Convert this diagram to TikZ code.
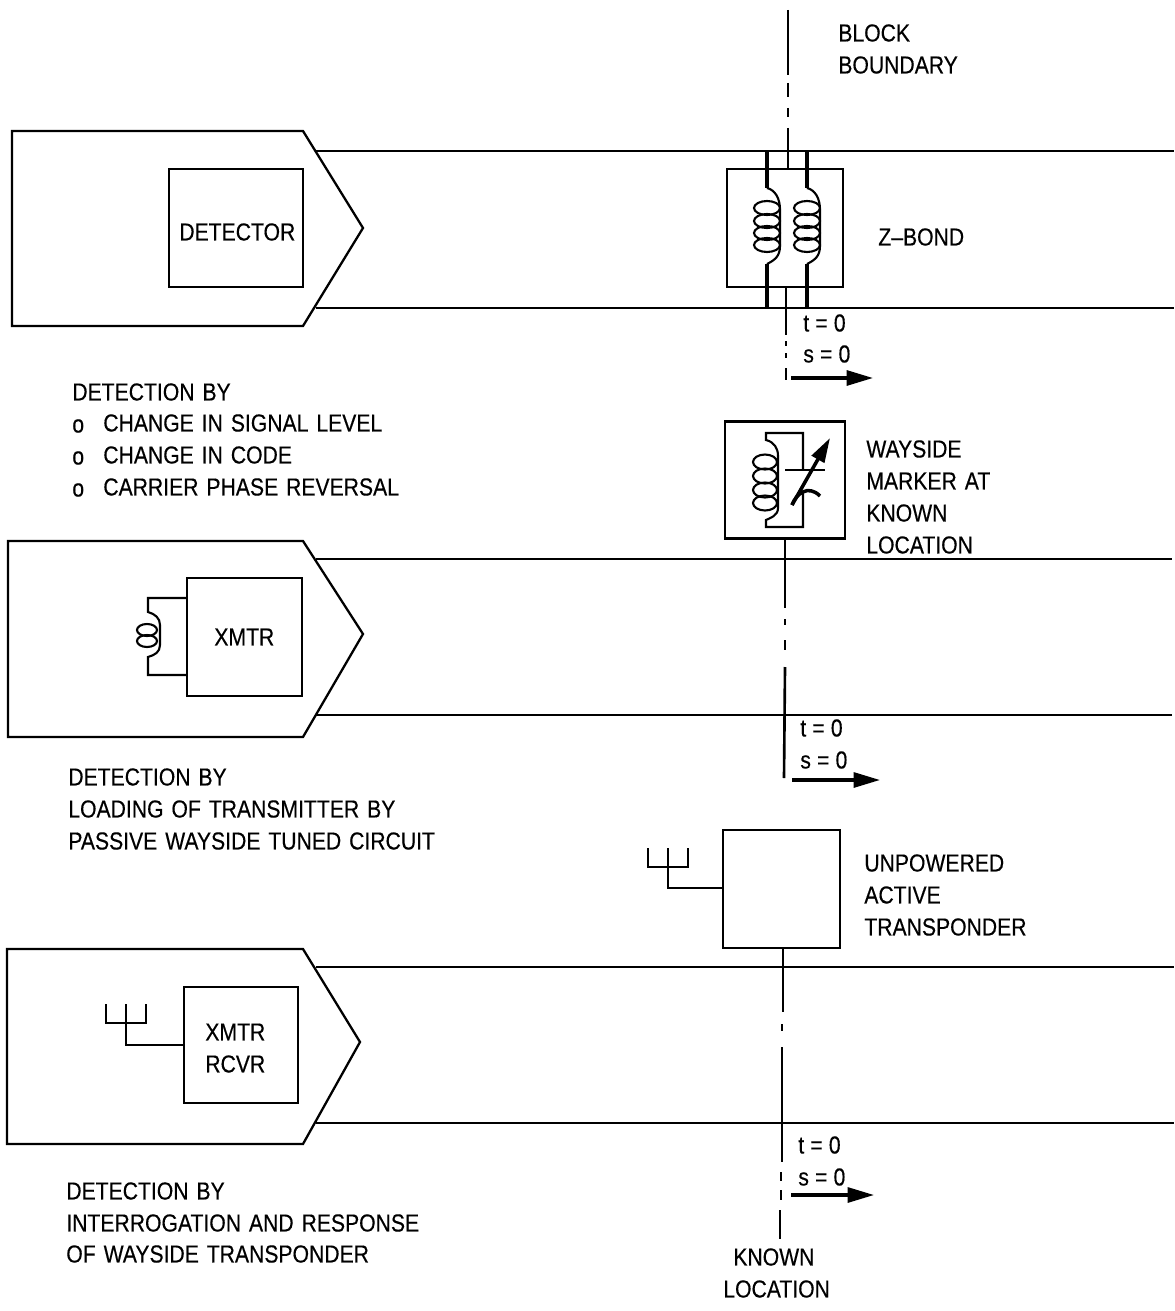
\documentclass[tikz,border=0pt]{standalone}
\usepackage{fontspec}
\setmainfont[FakeStretch=0.86,WordSpace=1.35,FakeBold=0.35]{Liberation Sans}
\usetikzlibrary{arrows.meta,positioning,calc}
\newcommand{\zero}[1]{#1\kern3.5pt=\kern3.5pt0}
\tikzset{
  rail/.style={line width=0.95pt},
  hull/.style={line width=1.3pt},
  unitbox/.style={draw, line width=1.4pt, inner sep=0pt},
  lbl/.style={anchor=west, inner sep=0pt, font=\fontsize{14}{18}\selectfont},
  coilwire/.style={line width=1.2pt},
  lead/.style={line width=2pt},
  aerial/.style={line width=1.5pt},
  boundary/.style={line width=1.5pt},
  travel/.style={line width=1.8pt, -{Triangle[length=15pt,width=8.5pt]}}
}
\begin{document}
\begin{tikzpicture}[x=0.02cm,y=-0.02cm]
\useasboundingbox (0,0) rectangle (1174,1311);
% Vehicles
\foreach \x/\t/\m/\b/\n/\a in {12/131/228/326/hulla/363,8/541/634/737/hullb/363,7/949/1042/1144/hullc/360} {
  \draw[hull] (\x,\t) -- (303,\t) -- (\a,\m) -- (303,\b) -- (\x,\b) -- cycle;
}
% Rails
\foreach \t/\b/\e in {151/308/1174,559/715/1172,967/1123/1174} {
  \draw[rail] (316,\t) -- (\e,\t);
  \draw[rail] (316,\b) -- (\e,\b);
}
% On-board units
\node[unitbox, minimum width=2.68cm, minimum height=2.36cm] (detector) at (236,228) {};
\node[unitbox, minimum width=2.3cm, minimum height=2.36cm] (xmtr) at (244.5,637) {};
\node[unitbox, minimum width=2.28cm, minimum height=2.32cm] (xmtrrcvr) at (241,1045) {};
% Wayside units
\node[unitbox, minimum width=2.32cm, minimum height=2.36cm] (zbond) at (785,228) {};
\node[unitbox, minimum width=2.4cm, minimum height=2.34cm] (marker) at (785,480) {};
\node[unitbox, minimum width=2.34cm, minimum height=2.36cm] (transp) at (781.5,889) {};
% Block boundary
\coordinate (bbtop) at (788,10);
\draw[boundary] (bbtop) -- (788,75);
\draw[boundary] (788,83) -- (788,97);
\draw[boundary] (788,108) -- (788,117);
\draw[boundary] (788,128) -- (zbond.north -| 788,0);
\draw[boundary] (zbond.south -| 786,0) -- (786,335);
\foreach \a/\b in {341/346,353/358,368/380} {
  \draw[boundary] (786,\a) -- (786,\b);
}
% Marker line
\draw[boundary] (marker.south -| 785,0) -- (785,608);
\foreach \a/\b in {619/625,640/650} {
  \draw[boundary] (785,\a) -- (785,\b);
}
\draw[boundary] (785,667) -- (784,778);
% Known location line
\draw[boundary] (transp.south -| 783,0) -- (783,1012);
\foreach \x/\a/\b in {782/1024/1031,781/1172/1181,781/1190/1200} {
  \draw[boundary] (\x,\a) -- (\x,\b);
}
\draw[boundary] (782,1047) -- (782,1162);
\draw[boundary] (780,1210) -- (780,1239);
% Z-bond windings
\foreach \x/\n in {767/l,807/r} {
  \coordinate (top\n) at (\x,151);
  \coordinate (bot\n) at (\x,308);
  \draw[lead] (top\n) -- (\x,188);
  \draw[lead] (\x,264) -- (bot\n);
  \draw[coilwire] (\x,188) .. controls (\x+8,190) and (\x+13,198) .. (\x+13,210)
    -- (\x+13,246) .. controls (\x+13,256) and (\x+8,260) .. (\x,264);
  \foreach \y in {208,221,233,245} {
    \draw[coilwire] (\x,\y) ellipse [x radius=13, y radius=7];
  }
}
% Marker tuned circuit
\draw[coilwire] (803,470) -- (803,433) -- (766,433) -- (766,440)
  .. controls (774,442) and (778,448) .. (778,456) -- (778,508)
  .. controls (778,516) and (770,518) .. (766,520) -- (766,527) -- (803,527) -- (803,492);
\foreach \y in {462,476,490,503} {
  \draw[coilwire] (765,\y) ellipse [x radius=12, y radius=7.5];
}
\draw[coilwire] (785,470) -- (825,470);
\draw[lead] (792,505) .. controls (796,494) and (808,484) .. (820,496);
\draw[lead, -{Triangle[length=14pt,width=8pt]}] (792,505) -- (830,438);
% XMTR coil
\draw[coilwire] (xmtr.west |- 0,598) -- (148,598) -- (148,612)
  .. controls (155,614) and (160,618) .. (160,625) -- (160,645)
  .. controls (160,652) and (155,655) .. (148,657) -- (148,675) -- (xmtr.west |- 0,675);
\foreach \y in {630,641} {
  \draw[coilwire] (147,\y) ellipse [x radius=10, y radius=6];
}
% Antennas
\draw[aerial] (648,848) -- (648,867) -- (688,867) -- (688,848);
\draw[coilwire] (668,848) -- (668,888) -- (transp.west |- 0,888);
\draw[aerial] (106,1004) -- (106,1023) -- (146,1023) -- (146,1004);
\draw[coilwire] (126,1004) -- (126,1045) -- (xmtrrcvr.west);
% Travel arrows
\foreach \x/\y/\e/\n in {791/378/873/a,792/780/880/b,791/1195/874/c} {
  \coordinate (from\n) at (\x,\y);
  \coordinate (to\n) at (\e,\y);
  \draw[travel] (from\n) -- (to\n);
}
% Labels
\foreach \x/\y/\s/\n in {
  179/232/DETECTOR/t32, 214/637/XMTR/t33, 205/1032/XMTR/t34, 205/1064/RCVR/t35,
  838/33/BLOCK/t1, 838/65/BOUNDARY/t2, 878/237/Z--BOND/t3,
  803/323/{\zero{t}}/t4, 803/354/{\zero{s}}/t5,
  72/392/DETECTION BY/t6, 72/426/o/t7, 103/423/CHANGE IN SIGNAL LEVEL/t8,
  72/458/o/t9, 103/455/CHANGE IN CODE/t10, 72/490/o/t11, 103/487/CARRIER PHASE REVERSAL/t12,
  866/449/WAYSIDE/t13, 866/481/MARKER AT/t14, 866/513/KNOWN/t15, 866/545/LOCATION/t16,
  800/728/{\zero{t}}/t17, 800/760/{\zero{s}}/t18,
  68/777/DETECTION BY/t19, 68/809/LOADING OF TRANSMITTER BY/t20, 68/841/PASSIVE WAYSIDE TUNED CIRCUIT/t21,
  864/863/UNPOWERED/t22, 864/895/ACTIVE/t23, 864/927/TRANSPONDER/t24,
  798/1145/{\zero{t}}/t25, 798/1177/{\zero{s}}/t26,
  66/1191/DETECTION BY/t27, 66/1223/INTERROGATION AND RESPONSE/t28, 66/1254/OF WAYSIDE TRANSPONDER/t29,
  733/1257/KNOWN/t30, 723/1289/LOCATION/t31} {
  \node[lbl] (\n) at (\x,\y) {\s};
}
\end{tikzpicture}
\end{document}
